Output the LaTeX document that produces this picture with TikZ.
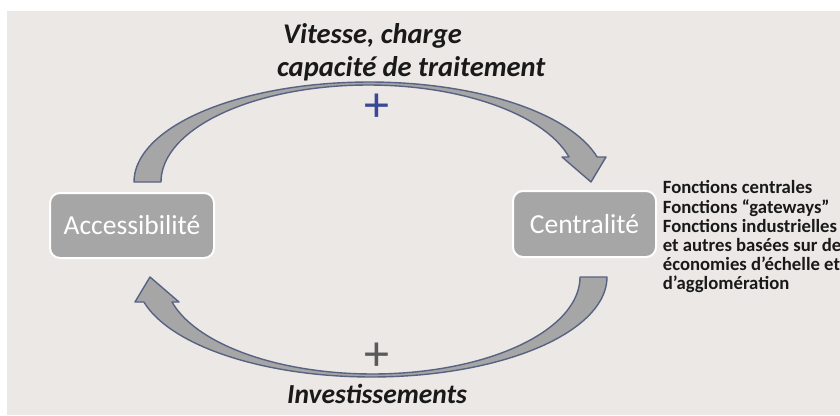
\documentclass[tikz,border=0pt]{standalone}
\usepackage{fontspec}
\setmainfont{Carlito}
\begin{document}
\begin{tikzpicture}[x=1pt,y=-1pt]
\definecolor{bgc}{RGB}{235,232,229}
\definecolor{boxfill}{RGB}{166,166,166}
\definecolor{arrowfill}{RGB}{166,166,166}
\definecolor{arrowedge}{RGB}{88,98,130}
\definecolor{plusblue}{RGB}{58,72,150}
\definecolor{plusgrey}{RGB}{90,90,90}
\tikzset{
  boxnode/.style={draw=white, line width=2pt, fill=boxfill, rounded corners=10pt,
    text=white, inner sep=0pt, font=\fontsize{27.5}{33}\selectfont},
  arrowline/.style={draw=arrowedge, line width=1.4pt, fill=arrowfill, line join=round},
  flowlabel/.style={anchor=base west, inner sep=0pt, text=black!90,
    font=\bfseries\itshape\fontsize{28.5}{33}\selectfont},
  plussign/.style={inner sep=0pt, font=\fontsize{50}{50}\selectfont},
  sidetext/.style={anchor=north west, inner sep=0pt, align=left, text=black!90,
    font=\bfseries\fontsize{18.7}{19.2}\selectfont}
}
\useasboundingbox (0,0) rectangle (840,415);
\fill[white] (0,0) rectangle (840,415);
\fill[bgc] (7,11) rectangle (840,415);

% curved block arrows
\draw[arrowline]
  plot[domain=180:14.48,samples=90] ({369.3+235.3*cos(\x)},{182-100*sin(\x)})
  -- (606,157) -- (591,182) -- (562,157)
  -- plot[domain=14.94:180,samples=90] ({368.5+207.5*cos(\x)},{182-97*sin(\x)})
  -- cycle;
\draw[arrowline]
  plot[domain=180:14.48,samples=90] ({741-(369.3+235.3*cos(\x))},{459-(182-100*sin(\x))})
  -- (135,302) -- (150,277) -- (179,302)
  -- plot[domain=14.94:180,samples=90] ({741-(368.5+207.5*cos(\x))},{459-(182-97*sin(\x))})
  -- cycle;

% boxes
\node[boxnode, minimum width=164pt, minimum height=65pt] (acc) at (132,225.5) {Accessibilité};
\node[boxnode, minimum width=143pt, minimum height=66pt] (cen) at (584.5,224) {Centralité};

% labels
\node[flowlabel] (lab1) at (283,43) {Vitesse, charge};
\node[flowlabel] (lab2) at (277,76) {capacité de traitement};
\node[flowlabel, font=\bfseries\itshape\fontsize{27.5}{33}\selectfont] (lab3) at (287,403) {Investissements};

\node[plussign, text=plusblue] (plus1) at (377,108) {+};
\node[plussign, text=plusgrey] (plus2) at (377,357) {+};

\node[sidetext] (side) at (662.7,180.5) {Fonctions centrales\\Fonctions “gateways”\\Fonctions industrielles\\et autres basées sur des\\économies d’échelle et\\d’agglomération};
\end{tikzpicture}
\end{document}
